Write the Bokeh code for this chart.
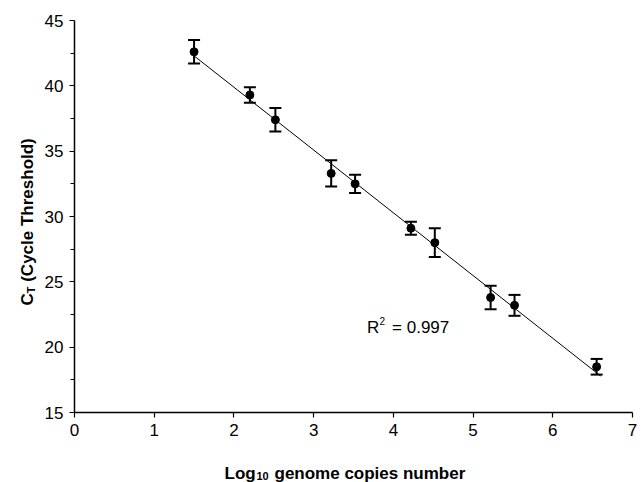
import numpy as np
from bokeh.plotting import figure
from bokeh.models import Whisker, ColumnDataSource, Label, FixedTicker
from bokeh.embed import file_html
from bokeh.resources import INLINE

log_copies = [1.50, 2.20, 2.52, 3.22, 3.52, 4.22, 4.52, 5.22, 5.52, 6.55]
ct_mean = [42.6, 39.3, 37.4, 33.3, 32.5, 29.1, 28.0, 23.8, 23.2, 18.5]
ct_err = [0.9, 0.6, 0.9, 1.0, 0.7, 0.5, 1.1, 0.9, 0.8, 0.6]
x_ticks = [0, 1, 2, 3, 4, 5, 6, 7]
y_ticks = [15, 20, 25, 30, 35, 40, 45]
y_minor = [17.5, 22.5, 27.5, 32.5, 37.5, 42.5]
r2_text = "= 0.997"

FONT = "Liberation Sans"
W, H = 644, 482
# pixel placement of the plotting area inside the canvas
L, R, T, B = 74, 632, 20, 412
X0, X1, Y0, Y1 = 0, 7, 15, 45

kx = (R - L) / (X1 - X0)
ky = (B - T) / (Y1 - Y0)
x_range = (X0 - L / kx, X1 + (W - R) / kx)
y_range = (Y0 - (H - B) / ky, Y1 + T / ky)

src = ColumnDataSource(dict(
    x=log_copies, y=ct_mean,
    lo=[m - e for m, e in zip(ct_mean, ct_err)],
    hi=[m + e for m, e in zip(ct_mean, ct_err)],
))

p = figure(width=W, height=H, x_range=x_range, y_range=y_range,
           output_backend="svg", toolbar_location=None, min_border=0,
           min_border_left=0, min_border_right=0, min_border_top=0,
           min_border_bottom=0)
p.outline_line_color = None
p.grid.visible = False
p.background_fill_color = "white"
p.border_fill_color = "white"

# trend line (least squares fit of the data)
slope, intercept = np.polyfit(log_copies, ct_mean, 1)
lx = [min(log_copies), max(log_copies) + 0.05]
p.line(lx, [slope * v + intercept for v in lx], line_color="black", line_width=1)

w = Whisker(source=src, base="x", lower="lo", upper="hi",
            line_color="black", line_width=2)
w.upper_head.size = 12
w.lower_head.size = 12
w.upper_head.line_width = 2
w.lower_head.line_width = 2
p.add_layout(w)
p.scatter("x", "y", source=src, size=8, color="black")

# axes placed at fixed data locations (they take no side-panel space)
p.xaxis.fixed_location = Y0
p.yaxis.fixed_location = X0
p.xaxis.bounds = (X0, X1)
p.yaxis.bounds = (Y0, Y1)
for ax in (p.xaxis[0], p.yaxis[0]):
    ax.axis_line_width = 1.5
    ax.axis_line_color = "black"
    ax.major_tick_line_color = "black"
    ax.major_tick_line_width = 1.2
    ax.major_tick_in = 0
    ax.major_tick_out = 5
    ax.major_label_text_font = FONT
    ax.major_label_text_font_size = "17px"
    ax.major_label_text_color = "black"

p.xaxis.ticker = FixedTicker(ticks=x_ticks)
p.yaxis.ticker = FixedTicker(ticks=y_ticks, minor_ticks=y_minor)
p.yaxis.minor_tick_in = 0
p.yaxis.minor_tick_out = 4
p.yaxis.minor_tick_line_color = "black"
p.xaxis.minor_tick_line_color = None
p.xaxis.major_label_standoff = 6
p.yaxis.major_label_standoff = 6


def lab(**kw):
    base = dict(x_units="screen", y_units="screen", text_font=FONT,
                text_font_style="bold", text_color="black",
                text_baseline="alphabetic")
    base.update(kw)
    p.add_layout(Label(**base))


# y axis label with subscript (screen units: origin bottom-left of canvas)
yb = 177
xr = 27
lab(x=xr, y=yb, angle=np.pi / 2, text="C", text_font_size="17px")
lab(x=xr + 3, y=yb + 12.3, angle=np.pi / 2, text="T", text_font_size="11px")
lab(x=xr, y=yb + 23.7, angle=np.pi / 2, text="(Cycle Threshold)",
    text_font_size="17px")

# x axis label with subscript
xl = 224
ybl = 9
lab(x=xl, y=ybl, text="Log", text_font_size="17px")
lab(x=xl + 32, y=ybl - 2, text="10", text_font_size="11px")
lab(x=xl + 50, y=ybl, text="genome copies number", text_font_size="17px")

# R^2 annotation (data coordinates)
rx, ry = 3.67, 21.5
p.add_layout(Label(x=rx, y=ry, text="R", text_font=FONT, text_font_size="17px",
                   text_baseline="alphabetic", text_color="black"))
p.add_layout(Label(x=rx, y=ry, x_offset=12.5, y_offset=6.5, text="2", text_font=FONT,
                   text_font_size="10px", text_baseline="alphabetic", text_color="black"))
p.add_layout(Label(x=rx, y=ry, x_offset=25, text=r2_text, text_font=FONT,
                   text_font_size="17px", text_baseline="alphabetic", text_color="black"))

open("out.html", "w").write(file_html(p, INLINE))
